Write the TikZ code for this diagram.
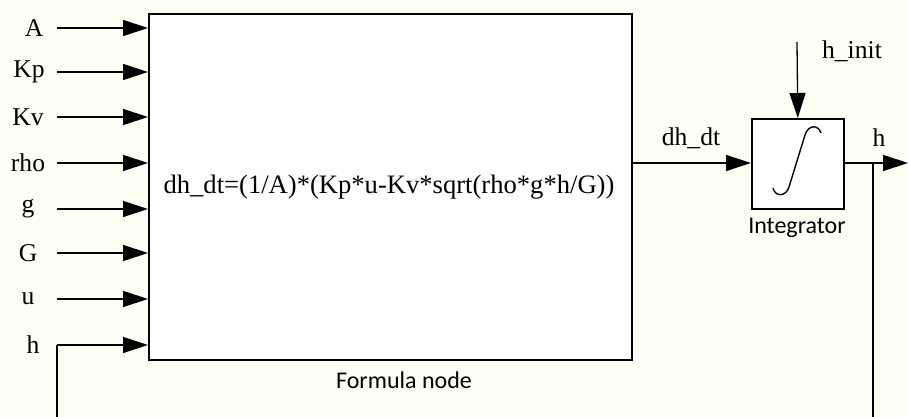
\documentclass[tikz,border=0pt]{standalone}
\usepackage{fontspec}
\setmainfont{Liberation Serif}
\newfontfamily\labelsans{Carlito}
\usetikzlibrary{arrows.meta}
\definecolor{paper}{RGB}{255,254,245}
\tikzset{
  wire/.style={line width=1.3pt, -{Triangle[length=25pt,width=16pt]}},
  plainwire/.style={line width=1.3pt},
  block/.style={draw, line width=1.6pt, fill=white, inner sep=0pt},
  sig/.style={font=\fontsize{25.6}{28}\selectfont, inner sep=0pt},
  formula/.style={font=\fontsize{26.6}{29}\selectfont, inner sep=0pt},
  blockcaption/.style={font=\labelsans\fontsize{24}{26}\selectfont, inner sep=0pt},
}
\begin{document}
\begin{tikzpicture}[x=1pt,y=-1pt]
  \fill[paper] (0,0) rectangle (908,417);
  \useasboundingbox (0,0) rectangle (908,417);
  \begin{scope}
    \clip (0,0) rectangle (908,417);

    % formula block
    \node[block, minimum width=483pt, minimum height=346pt, anchor=north west] (fb) at (148,13) {};
    \node[formula] (ftxt) at (389,187) {dh\_dt=(1/A)*(Kp*u-Kv*sqrt(rho*g*h/G))};
    \node[blockcaption] (fcap) at (404,380) {Formula node};

    % inputs
    \foreach \n/\lab/\xx/\yy in {A/A/34/28, Kp/Kp/29/72, Kv/Kv/28/117, rho/rho/28/163, g/g/28/209, G/G/28/253, u/u/28/299, h/h/33/345}{
      \node[sig] (l\n) at (\xx,\yy) {\lab};
      \coordinate (s\n) at (57,\yy);
      \coordinate (e\n) at (148,\yy);
    }
    \foreach \n in {A,Kp,Kv,rho,g,G,u,h}{
      \draw[wire] (s\n) -- (e\n);
    }

    % integrator
    \node[block, minimum width=92pt, minimum height=90pt, anchor=north west] (int) at (751,118) {};
    \draw[line width=1.4pt] (821,133) .. controls (818,124) and (808,125) .. (805,135)
      -- (789,187) .. controls (786,197) and (775,197) .. (773,188);
    \node[blockcaption] (icap) at (797,228) {Integrator};

    \coordinate (fbout) at (631,163);
    \draw[wire] (fbout) -- (int.west |- fbout);
    \node[sig] (ldh) at (691,138) {dh\_dt};

    \coordinate (hi) at (797,42);
    \draw[wire] (hi) -- (int.north);
    \node[sig] (lhi) at (852,51) {h\_init};

    \coordinate (tap) at (873,163);
    \coordinate (hout) at (908,163);
    \draw[wire] (int.east |- tap) -- (hout);
    \node[sig] (lh) at (879,138) {h};

    % feedback of h back to the formula input
    \coordinate (tapdown) at (873,430);
    \coordinate (fbdown) at (57,430);
    \draw[plainwire] (tap) -- (tapdown) -- (fbdown) -- (sh);
  \end{scope}
\end{tikzpicture}
\end{document}
